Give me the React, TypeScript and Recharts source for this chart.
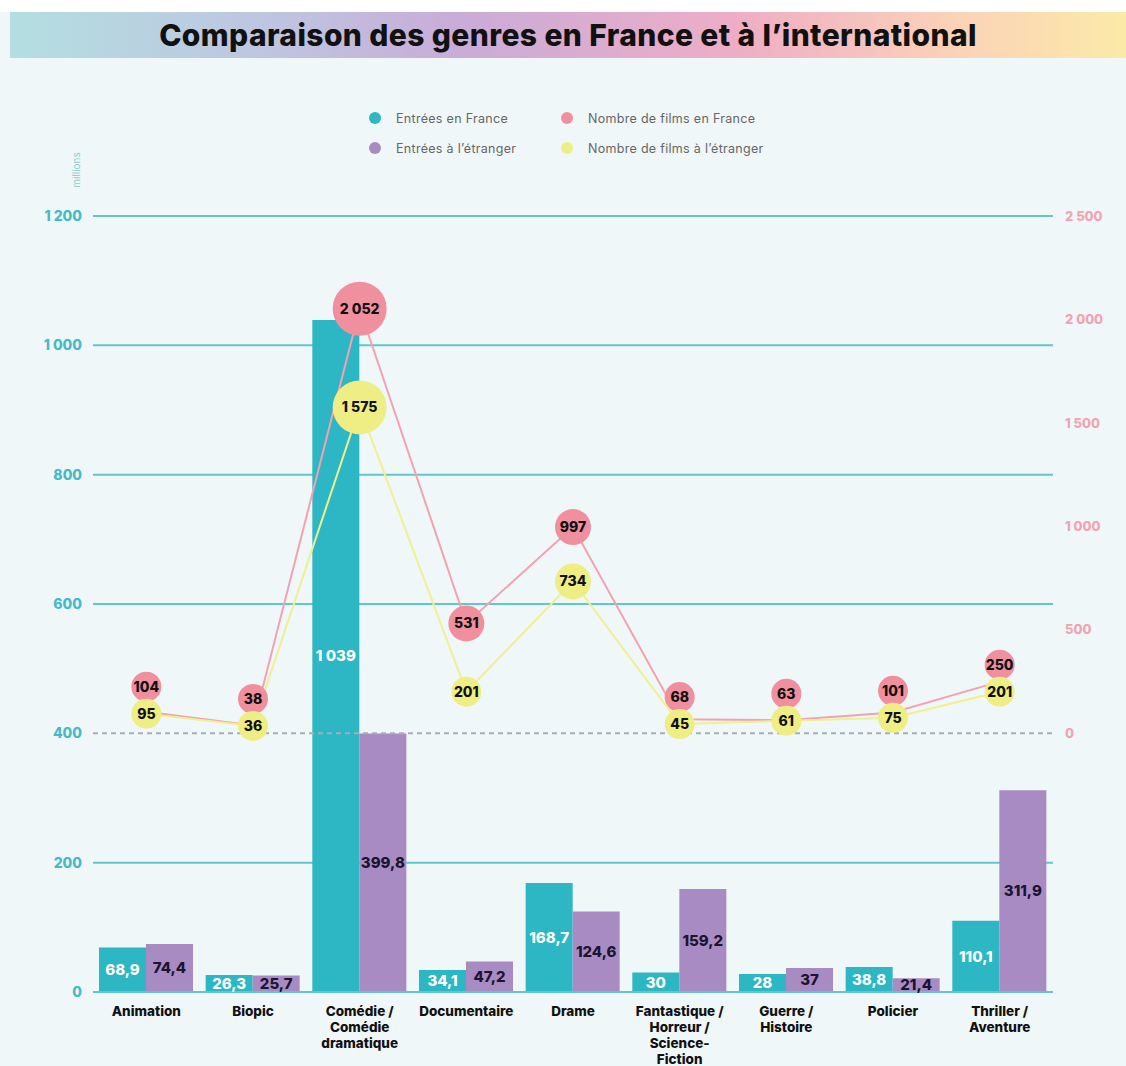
import React from 'react';
import { ComposedChart, Bar, Line, XAxis, YAxis, CartesianGrid, ReferenceLine, LabelList } from 'recharts';

const genreLines = [
  ['Animation'],
  ['Biopic'],
  ['Comédie /', 'Comédie', 'dramatique'],
  ['Documentaire'],
  ['Drame'],
  ['Fantastique /', 'Horreur /', 'Science-', 'Fiction'],
  ['Guerre /', 'Histoire'],
  ['Policier'],
  ['Thriller /', 'Aventure'],
];
const genres = genreLines.map((l) => l.join(' '));

// millions d'entrées
const entreesFrance = [68.9, 26.3, 1039, 34.1, 168.7, 30, 28, 38.8, 110.1];
const entreesEtranger = [74.4, 25.7, 399.8, 47.2, 124.6, 159.2, 37, 21.4, 311.9];
// nombre de films
const filmsFrance = [104, 38, 2052, 531, 997, 68, 63, 101, 250];
const filmsEtranger = [95, 36, 1575, 201, 734, 45, 61, 75, 201];

const leftTicks = [0, 200, 400, 600, 800, 1000, 1200];
const gridTicks = [0, 200, 600, 800, 1000, 1200];
const rightTicks = [0, 500, 1000, 1500, 2000, 2500];

const data = genres.map((genre, i) => ({
  genre,
  entreesFrance: entreesFrance[i],
  entreesEtranger: entreesEtranger[i],
  filmsFrance: filmsFrance[i],
  filmsEtranger: filmsEtranger[i],
}));

const TEAL = '#2db6c3';
const PURPLE = '#a98bc4';
const PINK = '#f0909f';
const YELLOW = '#eeee84';
const GRID = '#62c6cd';
const FONT = 'Inter, "Open Sans", sans-serif';

const W = 1126;
const H = 1066;
const TOP = 216;
const XH = 74;
const plotH = H - TOP - XH;
const rightDomain = [-1250, 2500];
const pxPerFilm = plotH / (rightDomain[1] - rightDomain[0]);

const fmt = (v: number) => {
  const [int, dec] = String(v).split('.');
  const withSpace = int.replace(/\B(?=(\d{3})+(?!\d))/g, ' ');
  return dec ? `${withSpace},${dec}` : withSpace;
};

const radius = (v: number) => (v > 1200 ? 27 : v > 400 ? 18 : 15);

const GenreTick = (props: any) => {
  const { x, y, payload } = props;
  const lines = genreLines[genres.indexOf(payload.value)] || [];
  return (
    <text x={x} y={y} textAnchor="middle" fontFamily={FONT} fontWeight={800} fontSize={13.5} fill="#111">
      {lines.map((l, i) => (
        <tspan key={i} x={x} dy={i === 0 ? 22 : 16}>
          {l}
        </tspan>
      ))}
    </text>
  );
};

const makeDot = (key: 'filmsFrance' | 'filmsEtranger', fill: string, lift: boolean) => (props: any) => {
  const { cx, cy, payload, index } = props;
  const v = payload[key];
  let y = cy;
  if (lift) {
    const other = cy + (payload.filmsFrance - payload.filmsEtranger) * pxPerFilm;
    y = Math.min(cy, other - 27);
  }
  return (
    <g key={`${key}-${index}`}>
      <circle cx={cx} cy={y} r={radius(v)} fill={fill} />
      <text x={cx} y={y} dy={5} textAnchor="middle" fontFamily={FONT} fontWeight={800} fontSize={14} fill="#111">
        {fmt(v)}
      </text>
    </g>
  );
};

const legendItems = [
  { label: 'Entrées en France', color: TEAL, x: 369, y: 112 },
  { label: 'Entrées à l’étranger', color: PURPLE, x: 369, y: 142 },
  { label: 'Nombre de films en France', color: PINK, x: 561, y: 112 },
  { label: 'Nombre de films à l’étranger', color: YELLOW, x: 561, y: 142 },
];

export default function App() {
  return (
    <div style={{ position: 'relative', width: W, height: H, background: '#f0f7f9', fontFamily: FONT, overflow: 'hidden' }}>
      <style>{'body{margin:0}'}</style>
      <div style={{ position: 'absolute', left: 0, top: 0, width: W, height: 12, background: '#fff' }} />
      <div
        style={{
          position: 'absolute',
          left: 10,
          top: 12,
          width: W - 10,
          height: 46,
          background: 'linear-gradient(90deg, #b3dfe0 0%, #bfc3e0 25%, #c8acd8 40%, #eeadc6 65%, #fbd3b8 85%, #fbeaa8 100%)',
          display: 'flex',
          alignItems: 'center',
          justifyContent: 'center',
        }}
      >
        <span style={{ fontSize: 30, fontWeight: 800, color: '#111', marginLeft: 0, letterSpacing: 0.4 }}>
          Comparaison des genres en France et à l’international
        </span>
      </div>

      {legendItems.map((it) => (
        <div key={it.label} style={{ position: 'absolute', left: it.x, top: it.y, display: 'flex', alignItems: 'center', height: 12 }}>
          <span style={{ width: 12, height: 12, borderRadius: 6, background: it.color, display: 'inline-block' }} />
          <span style={{ marginLeft: 15, fontSize: 12.5, color: '#666', letterSpacing: 0.3 }}>{it.label}</span>
        </div>
      ))}

      <div
        style={{
          position: 'absolute',
          left: 52,
          top: 164,
          width: 48,
          textAlign: 'center',
          fontSize: 10,
          color: '#8fcdd2',
          transform: 'rotate(-90deg)',
        }}
      >
        millions
      </div>

      <div style={{ position: 'absolute', left: 0, top: 0 }}>
        <ComposedChart width={W} height={H} data={data} margin={{ top: TOP, right: 0, bottom: 0, left: 0 }} barGap={0} barSize={47}>
          <CartesianGrid yAxisId="left" vertical={false} horizontalValues={gridTicks} stroke={GRID} strokeWidth={2} />
          <XAxis
            dataKey="genre"
            height={XH}
            interval={0}
            tickLine={false}
            tickSize={0}
            axisLine={{ stroke: GRID, strokeWidth: 2 }}
            tick={<GenreTick />}
          />
          <YAxis
            yAxisId="left"
            width={93}
            domain={[0, 1200]}
            ticks={leftTicks}
            axisLine={false}
            tickLine={false}
            tickSize={0}
            tickMargin={11}
            tickFormatter={fmt}
            tick={{ fill: '#45bac6', fontSize: 14, fontWeight: 800, fontFamily: FONT }}
          />
          <YAxis
            yAxisId="right"
            orientation="right"
            width={73}
            domain={rightDomain}
            ticks={rightTicks}
            axisLine={false}
            tickLine={false}
            tickSize={0}
            tickMargin={12}
            tickFormatter={fmt}
            tick={{ fill: '#f2a3b2', fontSize: 13, fontWeight: 800, fontFamily: FONT }}
          />
          <Bar yAxisId="left" dataKey="entreesFrance" fill={TEAL} isAnimationActive={false}>
            <LabelList dataKey="entreesFrance" position="center" formatter={(v: any) => fmt(v)} fill="#fff" fontSize={15} fontWeight={800} fontFamily={FONT} />
          </Bar>
          <Bar yAxisId="left" dataKey="entreesEtranger" fill={PURPLE} isAnimationActive={false}>
            <LabelList dataKey="entreesEtranger" position="center" formatter={(v: any) => fmt(v)} fill="#1a1530" fontSize={15} fontWeight={800} fontFamily={FONT} />
          </Bar>
          <ReferenceLine yAxisId="left" y={400} stroke="#a3b0b6" strokeWidth={2} strokeDasharray="5 4" />
          <Line
            yAxisId="right"
            type="linear"
            dataKey="filmsFrance"
            stroke="#f2a2b0"
            strokeWidth={2}
            dot={makeDot('filmsFrance', PINK, true)}
            activeDot={false}
            isAnimationActive={false}
          />
          <Line
            yAxisId="right"
            type="linear"
            dataKey="filmsEtranger"
            stroke="#eff08e"
            strokeWidth={2}
            dot={makeDot('filmsEtranger', YELLOW, false)}
            activeDot={false}
            isAnimationActive={false}
          />
        </ComposedChart>
      </div>
    </div>
  );
}
